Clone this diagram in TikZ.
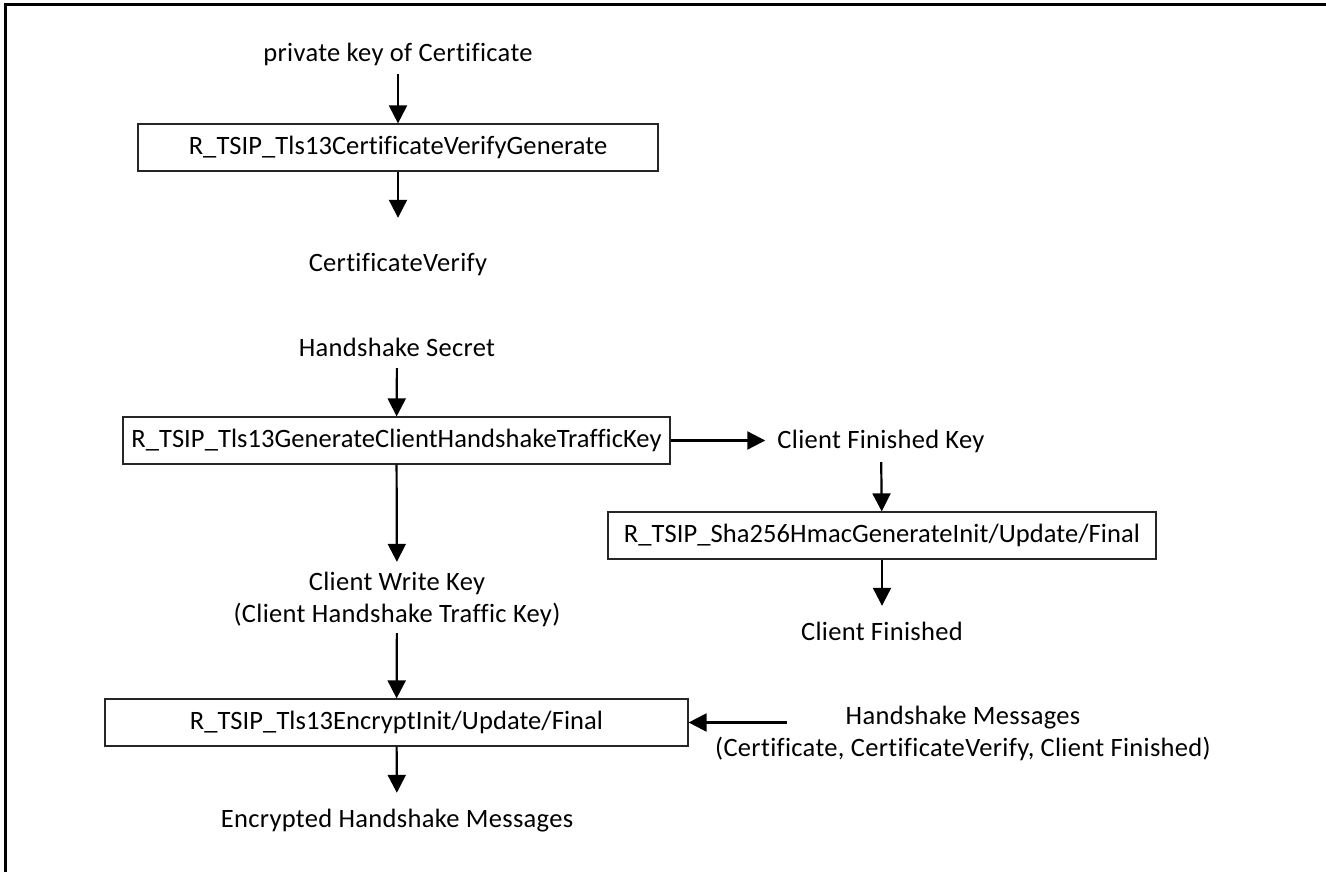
\documentclass[tikz,border=0pt]{standalone}
\usepackage{fontspec}
\setmainfont{Carlito}[Ligatures=NoCommon, LetterSpace=1.2]
\newfontfamily\boxfont{Carlito}[Ligatures=NoCommon, LetterSpace=0.3]
\usetikzlibrary{arrows.meta}
\begin{document}
\begin{tikzpicture}[x=1pt,y=-1pt,
  txt/.style={inner sep=0pt, align=center, yshift=-3pt, font=\fontsize{26.5}{32}\selectfont,
    execute at begin node=\strut, execute at end node=\strut},
  fbox/.style={draw=black!85, line width=1.2pt, inner sep=2pt, minimum height=47pt,
    font=\boxfont\fontsize{26.5}{32}\selectfont},
  arr/.style={line width=2.2pt, -{Triangle[length=18pt,width=18pt]}},
  frameline/.style={line width=3pt}]
\useasboundingbox (0,0) rectangle (1326,872);
\draw[frameline] (1326,5) -- (5,5) -- (5,872);

% left column
\node[txt] (pk) at (398,52) {private key of Certificate};
\node[fbox, minimum width=520pt] (b1) at (398,147.5) {R\_TSIP\_Tls13CertificateVerifyGenerate};
\node[txt] (cv) at (398,262) {CertificateVerify};

\node[txt] (hs) at (397,347) {Handshake Secret};
\node[fbox, minimum width=547pt] (b2) at (396.5,440.5) {R\_TSIP\_Tls13GenerateClientHandshakeTrafficKey};
\node[txt] (cwk) at (397,599) {Client Write Key\\(Client Handshake Traffic Key)};

\node[fbox, minimum width=583pt] (b3) at (396.5,722.5) {R\_TSIP\_Tls13EncryptInit/Update/Final};
\node[txt] (enc) at (397,818) {Encrypted Handshake Messages};

% right column
\node[txt] (cfk) at (881,439) {Client Finished Key};
\node[fbox, minimum width=548pt] (b4) at (882,535.5) {R\_TSIP\_Sha256HmacGenerateInit/Update/Final};
\node[txt] (cf) at (882,631) {Client Finished};

\node[txt] (hm) at (963,733.5) {Handshake Messages\\(Certificate, CertificateVerify, Client Finished)};
\coordinate (hmin) at (787,722.5);

% connectors
\draw[arr, shorten <=3pt] (pk) -- (b1);
\draw[arr, shorten >=31pt] (b1) -- (cv);
\draw[arr, shorten <=2pt] (hs) -- (b2);
\draw[arr, shorten >=10pt] (b2) -- (cwk);
\draw[arr, shorten <=1pt] (cwk) -- (b3);
\draw[arr, shorten >=12pt] (b3) -- (enc);
\draw[arr, shorten >=12pt] (b2.east) -- (b2.east -| cfk.west);
\draw[arr, shorten <=4pt] (cfk) -- (b4);
\draw[arr, shorten >=12pt] (b4) -- (cf);
\draw[arr] (hmin) -- (b3.east);
\end{tikzpicture}
\end{document}
